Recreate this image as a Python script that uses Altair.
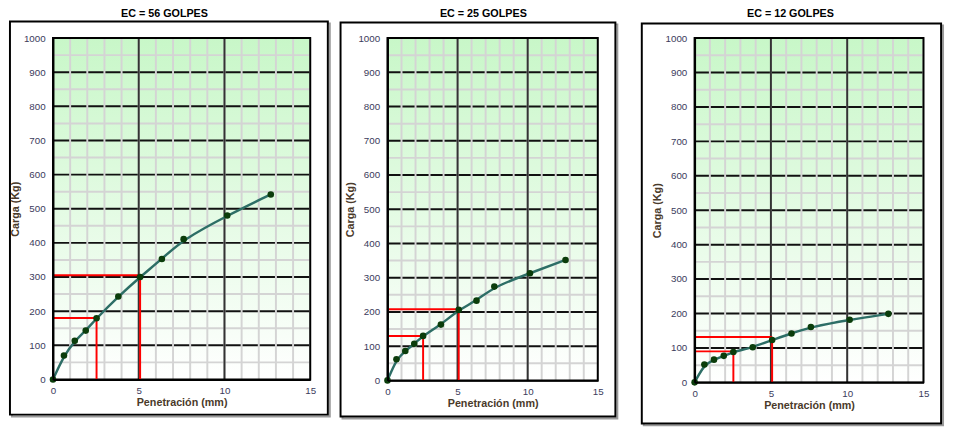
import altair as alt
import pandas as pd

# ---- data ----
pen = [0, 0.64, 1.27, 1.91, 2.54, 3.81, 5.08, 6.35, 7.62, 10.16, 12.70]
carga_56 = [0, 70, 113, 143, 179, 243, 300, 353, 411, 480, 542]
carga_25 = [0, 62, 86, 107, 130, 163, 206, 233, 274, 313, 352]
carga_12 = [0, 52, 66, 77, 88, 102, 123, 142, 161, 182, 199]

pen_ref = [2.54, 5.08]
ref_56 = [180, 305]
ref_25 = [130, 208]
ref_12 = [90, 132]

titles = ["EC = 56 GOLPES", "EC = 25 GOLPES", "EC = 12 GOLPES"]

x_ticks = [0, 5, 10, 15]
y_ticks = list(range(0, 1001, 100))
x_minor = list(range(0, 16))
x_major = [5, 10]
y_minor = list(range(50, 1000, 100))
y_major = list(range(100, 1000, 100))

FONT = "Liberation Sans"
LABEL_C = "#3b3b5c"
TITLE_C = "#4a3a2a"

xs = alt.Scale(domain=[0, 15], nice=False)
ys = alt.Scale(domain=[0, 1000], nice=False)

xaxis = alt.Axis(values=x_ticks, format="d", title="Penetración (mm)", grid=False, ticks=False,
                 domainColor="black", domainWidth=2, labelFlush=False, labelPadding=6,
                 titlePadding=2, labelFontSize=10, titleFontSize=11, titleFontWeight="bold",
                 labelColor=LABEL_C, titleColor=TITLE_C, labelFont=FONT, titleFont=FONT,
                 zindex=1)
yaxis = alt.Axis(values=y_ticks, format="d", title="Carga (Kg)", grid=False, ticks=False,
                 domainColor="black", domainWidth=2, labelPadding=8,
                 titlePadding=3, labelFontSize=10, titleFontSize=11, titleFontWeight="bold",
                 labelColor=LABEL_C, titleColor=TITLE_C, labelFont=FONT, titleFont=FONT,
                 zindex=1)

grad = alt.Gradient(gradient="linear",
                    stops=[alt.GradientStop(color="#c8f7c8", offset=0),
                           alt.GradientStop(color="#ffffff", offset=1)],
                    x1=0, x2=0, y1=0, y2=1)


def X(f="x"):
    return alt.X(f"{f}:Q", scale=xs, axis=xaxis)


def Y(f="y"):
    return alt.Y(f"{f}:Q", scale=ys, axis=yaxis)


def panel(title, loads, refs, W, H, fl, fr, ft, fb, tx, ty):
    one = pd.DataFrame({"a": [0]})
    pts = pd.DataFrame({"x": pen, "y": loads})
    ref = pd.DataFrame({"x0": [0, 0], "x": pen_ref, "y0": [0, 0], "y": refs})

    shadow = alt.Chart(one).mark_rect(fillOpacity=0, stroke="#9a9a9a", strokeWidth=2).encode(
        x=alt.value(fl + 2), x2=alt.value(W + fr + 2), y=alt.value(ft + 2), y2=alt.value(H + fb + 2))
    frame = alt.Chart(one).mark_rect(fill="white", stroke="black", strokeWidth=2).encode(
        x=alt.value(fl), x2=alt.value(W + fr), y=alt.value(ft), y2=alt.value(H + fb))
    bg = alt.Chart(one).mark_rect(fill=grad).encode(
        x=alt.value(0), x2=alt.value(W), y=alt.value(0), y2=alt.value(H))
    minor_h = alt.Chart(pd.DataFrame({"y": y_minor})).mark_rule(color="#d4d4d4", strokeWidth=2).encode(y=Y())
    major_h = alt.Chart(pd.DataFrame({"y": y_major})).mark_rule(color="#111111", strokeWidth=2).encode(y=Y())
    minor_v = alt.Chart(pd.DataFrame({"x": x_minor})).mark_rule(color="#d4d4d4", strokeWidth=2).encode(x=X())
    major_v = alt.Chart(pd.DataFrame({"x": x_major})).mark_rule(color="#333333", strokeWidth=2).encode(x=X())
    border = alt.Chart(one).mark_rect(fillOpacity=0, stroke="black", strokeWidth=2).encode(
        x=alt.value(0), x2=alt.value(W), y=alt.value(0), y2=alt.value(H))
    red_h = alt.Chart(ref).mark_rule(color="#ff0000", strokeWidth=2).encode(x=X("x0"), x2="x:Q", y=Y())
    red_v = alt.Chart(ref).mark_rule(color="#ff0000", strokeWidth=2).encode(x=X(), y=Y("y0"), y2="y:Q")
    curve = alt.Chart(pts).mark_line(color="#2d6e66", strokeWidth=2.5, interpolate="basis").encode(x=X(), y=Y())
    dots = alt.Chart(pts).mark_point(shape="circle", filled=True, size=45, color="#0b3d0b", opacity=1).encode(x=X(), y=Y())
    ttl = alt.Chart(one).mark_text(text=title, font=FONT, fontSize=11, fontWeight="bold", color="black",
                                   baseline="middle", align="center").encode(
        x=alt.value(tx), y=alt.value(ty))
    return alt.layer(shadow, frame, bg, minor_h, major_h, minor_v, major_v, border,
                     red_h, red_v, curve, dots, ttl).properties(width=W, height=H)


p1 = panel(titles[0], carga_56, ref_56, 263, 349, -44, 18, -17, 36, 114, -25)
p2 = panel(titles[1], carga_25, ref_25, 215, 350, -48, 18, -16, 37, 98, -25)
p3 = panel(titles[2], carga_12, ref_12, 234, 352, -54, 18, -15, 42, 98, -25)

chart = alt.hconcat(alt.hconcat(p1, p2, spacing=7), p3, spacing=21).properties(
    padding={"left": 0, "top": -6, "right": 0, "bottom": 0}
).configure_view(stroke="transparent").configure(background="white")

chart.save("out.html", embed_options={"renderer": "svg", "actions": False})
